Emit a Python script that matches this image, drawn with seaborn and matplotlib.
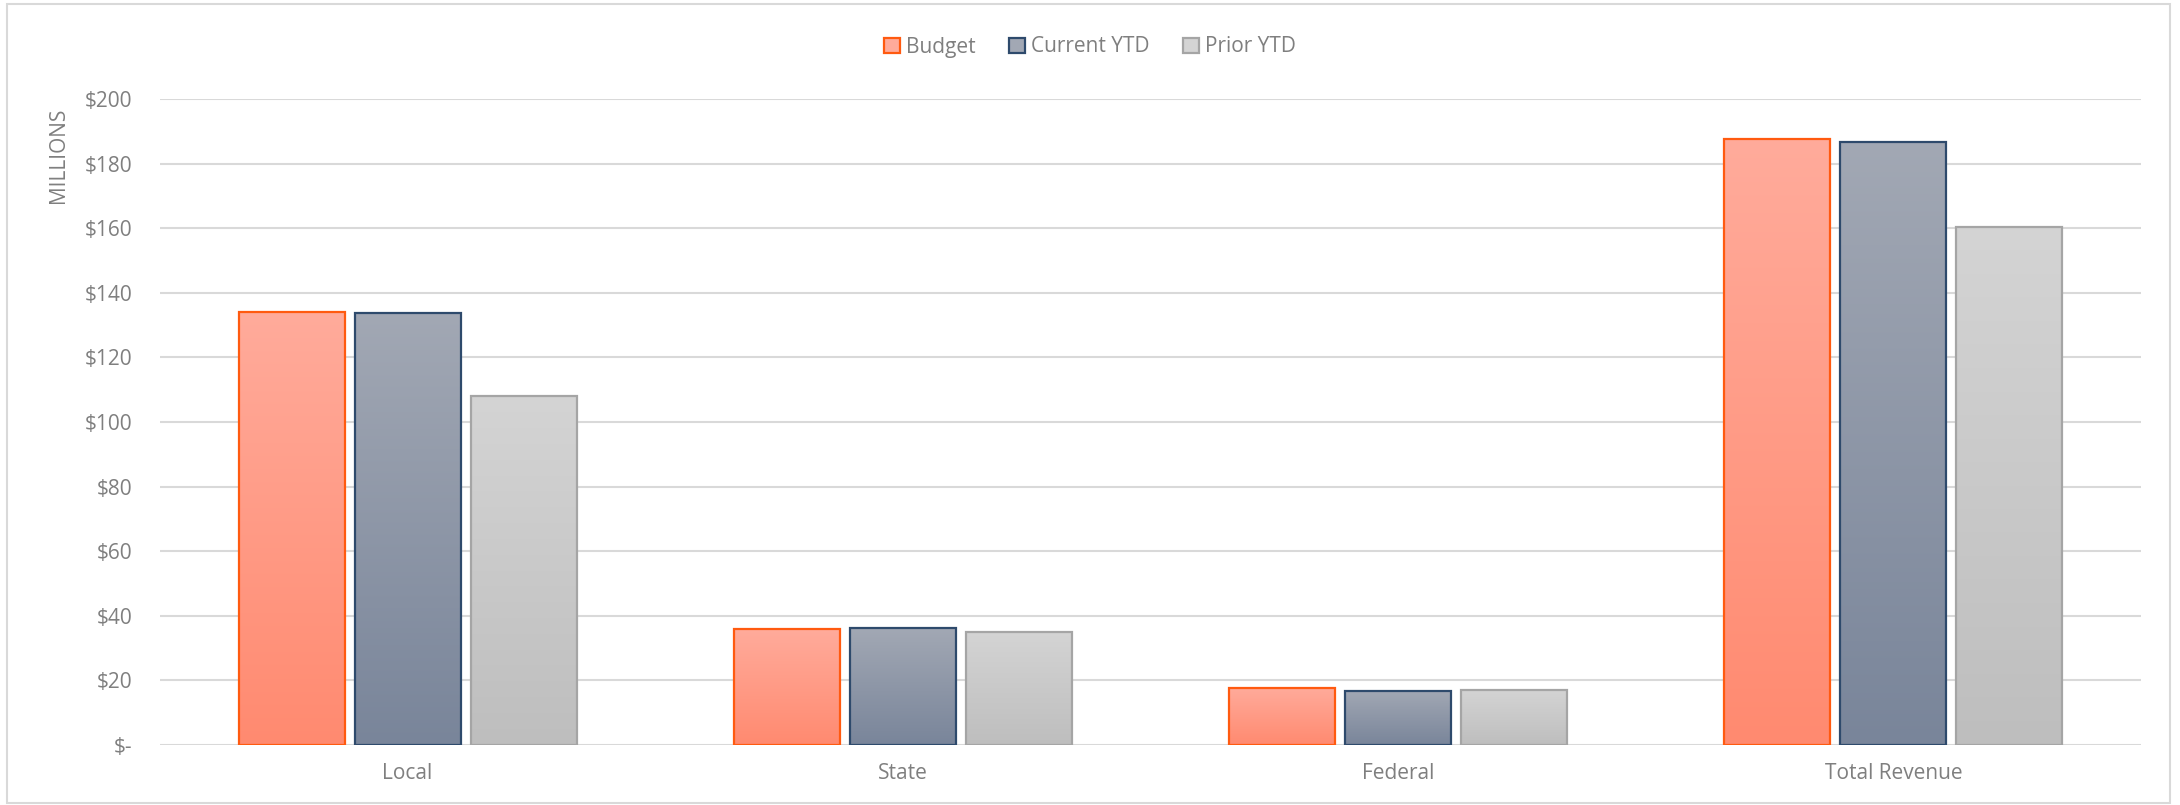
import numpy as np
import pandas as pd
import seaborn as sns
import matplotlib.pyplot as plt
from matplotlib.colors import LinearSegmentedColormap
from matplotlib.patches import Patch, Rectangle

# Data (millions of dollars)
categories = ["Local", "State", "Federal", "Total Revenue"]
budget = [134.1, 35.8, 17.7, 187.6]
current_ytd = [133.9, 36.1, 16.8, 186.8]
prior_ytd = [108.0, 35.1, 17.1, 160.4]
series = ["Budget", "Current YTD", "Prior YTD"]
y_ticks = [0, 20, 40, 60, 80, 100, 120, 140, 160, 180, 200]

df = pd.DataFrame({
    "category": categories * 3,
    "value": budget + current_ytd + prior_ytd,
    "series": np.repeat(series, len(categories)),
})

# colours: (top, bottom) of gradient and edge
grad = {
    "Budget": ("#FFAB9B", "#FF8A70"),
    "Current YTD": ("#A2A8B4", "#79859A"),
    "Prior YTD": ("#D4D4D4", "#BEBEBE"),
}
edges = {"Budget": "#FF5A10", "Current YTD": "#2E4A6C", "Prior YTD": "#A5A5A5"}

sns.set_style("white")
plt.rcParams["font.family"] = ["Open Sans", "DejaVu Sans"]
text_col = "#7F7F7F"

fig = plt.figure(figsize=(21.8, 8.05), dpi=100)
ax = fig.add_axes([160 / 2180, 1 - 745 / 805, (2141 - 160) / 2180, (745 - 99) / 805])

sns.barplot(data=df, x="category", y="value", hue="series", hue_order=series,
            palette={s: grad[s][0] for s in series}, width=0.703, gap=0.086,
            ax=ax, legend=False, zorder=3)

# swap flat fills for vertical gradients (light at top, darker at bottom)
ramp = np.linspace(0, 1, 256).reshape(-1, 1)
for name, cont in zip(series, ax.containers):
    cmap = LinearSegmentedColormap.from_list(name, [grad[name][1], grad[name][0]])
    for bar in cont:
        x0, y0 = bar.get_x(), bar.get_y()
        w, h = bar.get_width(), bar.get_height()
        bar.set_facecolor("none")
        bar.set_edgecolor(edges[name])
        bar.set_linewidth(1.6)
        bar.set_zorder(4)
        img = ax.imshow(ramp, extent=[x0, x0 + w, y0, y0 + h], aspect="auto", cmap=cmap,
                        vmin=0, vmax=1, origin="lower", zorder=3)
        img.set_clip_path(bar)

ax.set_xlim(-0.5, len(categories) - 0.5)
ax.set_ylim(0, 200)

ax.set_yticks(y_ticks)
ax.set_yticklabels(["$-"] + [f"${v}" for v in y_ticks[1:]])
ax.yaxis.grid(True, color="#D9D9D9", linewidth=1.5, zorder=0)
ax.set_axisbelow(True)
ax.tick_params(axis="both", length=0, labelsize=15, colors=text_col)
ax.tick_params(axis="y", pad=20)
ax.tick_params(axis="x", pad=13)
for s in ax.spines.values():
    s.set_visible(False)
ax.set_xlabel("")
ax.set_ylabel("")
fig.text(58 / 2180, 1 - 108 / 805, "MILLIONS", rotation=90, ha="center", va="top",
         fontsize=15, color=text_col)

handles = [Patch(facecolor=grad[s][0], edgecolor=edges[s], linewidth=1.6, label=s) for s in series]
leg = fig.legend(handles=handles, loc="center", bbox_to_anchor=(0.5, 1 - 47 / 805), ncol=3,
                 frameon=False, fontsize=15, handlelength=0.75, handleheight=0.75,
                 handletextpad=0.3, columnspacing=1.6)
for t in leg.get_texts():
    t.set_color(text_col)

fig.patches.append(Rectangle((7 / 2180, 2 / 805), (2170 - 7) / 2180, (801 - 2) / 805,
                             transform=fig.transFigure, fill=False, edgecolor="#D9D9D9",
                             linewidth=1.5))

fig.savefig("out.png", dpi=100)
